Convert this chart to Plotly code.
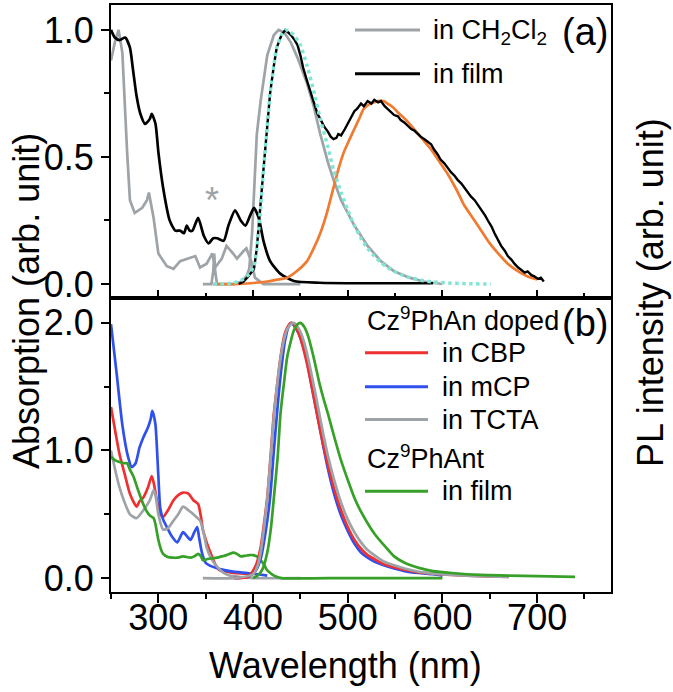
import plotly.graph_objects as go

# ---------------- Panel (a) data ----------------
abs_dcm_wl = [250, 254, 258, 262, 267, 270, 275, 283, 288, 290, 295, 300, 309, 316, 323, 332, 339, 344, 351, 357,
              360, 367, 372, 379, 383, 390, 393, 398, 402, 411, 420, 450]
abs_dcm = [0.88, 0.95, 1.0, 0.91, 0.52, 0.33, 0.28, 0.30, 0.33, 0.36, 0.26, 0.12, 0.07, 0.06, 0.09, 0.10, 0.11, 0.065,
           0.08, 0.12, 0.065, 0.10, 0.15, 0.12, 0.10, 0.13, 0.14, 0.09, 0.025, 0.0, 0.0, 0.0]

abs_film_wl = [250, 254, 259, 265, 270, 273, 277, 281, 286, 291, 293, 297, 300, 305, 312, 318, 323, 327, 330, 333, 336,
               342, 348, 353, 358, 362, 369, 374, 381, 387, 392, 397, 401, 406, 411, 418, 429, 443, 470, 520, 590]
abs_film = [1.0, 0.97, 0.96, 0.97, 0.93, 0.85, 0.74, 0.67, 0.63, 0.65, 0.67, 0.63, 0.52, 0.38, 0.25, 0.21, 0.21, 0.20,
            0.23, 0.21, 0.21, 0.26, 0.19, 0.16, 0.18, 0.18, 0.17, 0.23, 0.29, 0.25, 0.23, 0.27, 0.30, 0.26, 0.17, 0.09,
            0.04, 0.012, 0.005, 0.003, 0.003]

pl_dcm_wl = [347, 352, 356, 358, 359, 360, 362, 370, 380, 388, 393, 396, 399, 404, 408, 415, 422, 427, 433, 440, 447,
             457, 464, 471, 479, 485, 493, 507, 521, 535, 549, 565, 580, 600]
pl_dcm = [0.0, 0.0, 0.0, 0.05, 0.12, 0.05, 0.0, 0.0, 0.0, 0.01, 0.03, 0.06, 0.2, 0.59, 0.72, 0.9, 0.98, 1.0, 0.99, 0.95,
          0.89, 0.79, 0.7, 0.59, 0.48, 0.41, 0.33, 0.23, 0.15, 0.09, 0.05, 0.025, 0.01, 0.0]

pl_film_wl = [385, 390, 395, 401, 404, 408, 411, 415, 418, 422, 425, 430, 434, 437, 440, 444, 447, 450, 453,
              457, 461, 464, 468, 471, 475, 479, 482, 485, 488, 490, 493, 497, 500, 503, 507, 510, 514, 517, 521, 525,
              528, 532, 535, 539, 542, 546, 549, 553, 556, 560, 563, 567, 570, 574, 577, 581, 584, 588, 591, 595, 598,
              602, 606, 609, 613, 616, 620, 623, 627, 630, 634, 638, 641, 645, 648, 652, 655, 659, 662, 666, 669, 673,
              676, 680, 683, 687, 690, 694, 697, 701, 704, 707]
pl_film = [0.0, 0.01, 0.03, 0.06, 0.14, 0.3, 0.45, 0.62, 0.75, 0.86, 0.93, 0.98, 1.0, 0.99, 0.98, 0.96,
           0.94, 0.90, 0.85, 0.80, 0.75, 0.71, 0.67, 0.65, 0.62, 0.60, 0.58, 0.57, 0.575, 0.59, 0.585, 0.61, 0.63,
           0.65, 0.68, 0.69, 0.71, 0.70, 0.72, 0.71, 0.725, 0.715, 0.72, 0.70, 0.69, 0.675, 0.665, 0.66, 0.645, 0.635,
           0.625, 0.61, 0.605, 0.59, 0.58, 0.57, 0.56, 0.55, 0.53, 0.51, 0.49, 0.475, 0.455, 0.44, 0.425, 0.41, 0.395,
           0.38, 0.36, 0.345, 0.33, 0.31, 0.29, 0.27, 0.25, 0.225, 0.2, 0.17, 0.15, 0.13, 0.11, 0.095, 0.08, 0.065,
           0.055, 0.045, 0.05, 0.035, 0.03, 0.02, 0.025, 0.01]

fit1_wl = [358, 370, 380, 390, 396, 401, 404, 408, 411, 415, 418, 422, 425, 430, 434, 438, 443, 450, 457, 464, 471, 479,
           485, 493, 500, 507, 514, 521, 528, 535, 542, 549, 556, 566, 577, 590, 606, 630, 651]
fit1 = [0.0, 0.0, 0.005, 0.02, 0.04, 0.07, 0.14, 0.3, 0.45, 0.62, 0.75, 0.86, 0.93, 0.98, 1.0, 0.995, 0.98, 0.94, 0.86,
        0.76, 0.65, 0.54, 0.45, 0.36, 0.29, 0.23, 0.18, 0.14, 0.11, 0.085, 0.065, 0.05, 0.038, 0.025, 0.015, 0.008,
        0.004, 0.001, 0.0]

fit2_wl = [358, 380, 400, 415, 425, 436, 446, 457, 464, 471, 478, 485, 490, 496, 502, 507, 512, 517, 524, 532, 538, 542,
           548, 553, 556, 563, 570, 579, 588, 597, 606, 615, 623, 632, 641, 650, 659, 669, 680, 690, 700]
fit2 = [0.0, 0.0, 0.004, 0.01, 0.017, 0.025, 0.05, 0.09, 0.14, 0.2, 0.28, 0.38, 0.45, 0.52, 0.57, 0.61, 0.65, 0.69,
        0.71, 0.72, 0.72, 0.71, 0.695, 0.675, 0.665, 0.64, 0.61, 0.57, 0.53, 0.48, 0.43, 0.37, 0.31, 0.26, 0.21, 0.16,
        0.12, 0.08, 0.05, 0.03, 0.018]

# ---------------- Panel (b) data ----------------
abs_cbp_wl = [250, 255, 259, 265, 270, 277, 280, 284, 289, 293, 295, 298, 302, 305, 310, 316, 321, 326, 332, 337, 342,
              345, 347, 351, 355, 360, 365, 372, 379, 390, 400]
abs_cbp = [1.34, 1.13, 0.97, 0.8, 0.66, 0.56, 0.6, 0.63, 0.71, 0.8, 0.75, 0.63, 0.5, 0.48, 0.53, 0.61, 0.65, 0.67, 0.66,
           0.61, 0.58, 0.48, 0.38, 0.28, 0.2, 0.11, 0.06, 0.05, 0.04, 0.035, 0.03]

abs_mcp_wl = [250, 256, 262, 268, 272, 276, 280, 284, 289, 292, 293.5, 295, 297, 300, 302, 305, 309, 314, 320, 326, 330,
              334, 338, 341, 343, 346, 350, 357, 365, 379, 394, 405, 415]
abs_mcp = [1.99, 1.6, 1.2, 0.95, 0.87, 0.9, 1.02, 1.1, 1.18, 1.25, 1.31, 1.28, 1.2, 0.8, 0.55, 0.46, 0.4, 0.33, 0.28,
           0.36, 0.33, 0.30, 0.36, 0.40, 0.32, 0.2, 0.12, 0.09, 0.07, 0.05, 0.04, 0.03, 0.02]

abs_tcta_wl = [250, 255, 259, 264, 270, 277, 284, 291, 295, 297, 300, 305, 310, 316, 321, 326, 332, 337, 344, 348, 351,
               356, 362, 369, 375, 385, 400, 450]
abs_tcta = [1.0, 0.83, 0.71, 0.6, 0.5, 0.47, 0.53, 0.61, 0.69, 0.65, 0.5, 0.38, 0.39, 0.45, 0.5, 0.56, 0.53, 0.5, 0.45,
            0.35, 0.24, 0.15, 0.09, 0.04, 0.02, 0.01, 0.0, 0.0]

abs_ant_wl = [250, 255, 259, 264, 267, 270, 274, 279, 284, 288, 291, 295, 297, 300, 303, 305, 310, 315, 320, 326, 330,
              334, 338, 342, 345, 347, 352, 357, 362, 367, 372, 379, 383, 387, 392, 396, 400, 404, 408, 412, 415, 420,
              425, 430, 500, 600]
abs_ant = [0.95, 0.92, 0.91, 0.9, 0.9, 0.85, 0.79, 0.68, 0.58, 0.52, 0.49, 0.47, 0.42, 0.3, 0.22, 0.19, 0.165, 0.16,
           0.16, 0.17, 0.165, 0.16, 0.17, 0.19, 0.17, 0.14, 0.15, 0.155, 0.16, 0.17, 0.18, 0.2, 0.19, 0.17, 0.175, 0.18,
           0.18, 0.17, 0.14, 0.1, 0.06, 0.03, 0.01, 0.0, 0.0, 0.0]

pl_cbp_wl = [380, 395, 403, 408, 412, 415, 419, 422, 426, 429, 433, 436, 440, 444, 448, 452, 457, 462, 468, 474, 479,
             486, 493, 500, 507, 514, 521, 528, 538, 549, 560, 575, 590, 610, 640, 670]
pl_cbp = [0.0, 0.01, 0.1, 0.24, 0.45, 0.63, 1.0, 1.29, 1.55, 1.73, 1.9, 1.96, 2.0, 1.98, 1.92, 1.83, 1.68, 1.5, 1.27,
          1.05, 0.89, 0.69, 0.53, 0.4, 0.3, 0.23, 0.18, 0.15, 0.11, 0.085, 0.065, 0.045, 0.035, 0.025, 0.015, 0.01]

pl_mcp_wl = [380, 395, 403, 408, 413, 418, 422, 426, 430, 434, 438, 441, 444, 448, 452, 457, 462, 468, 474, 479, 486,
             493, 500, 507, 514, 521, 528, 538, 549, 560, 575, 590, 600]
pl_mcp = [0.0, 0.01, 0.06, 0.15, 0.35, 0.63, 1.0, 1.35, 1.65, 1.87, 1.98, 2.0, 1.97, 1.92, 1.84, 1.7, 1.5, 1.27, 1.04,
          0.86, 0.65, 0.49, 0.37, 0.27, 0.2, 0.16, 0.13, 0.1, 0.075, 0.055, 0.04, 0.03, 0.02]

pl_tcta_wl = [347, 380, 400, 405, 408, 412, 415, 419, 422, 426, 429, 433, 436, 440, 443, 446, 450, 455, 460, 466, 472,
              479, 486, 493, 500, 507, 514, 521, 528, 538, 549, 560, 575, 590, 610, 640, 670]
pl_tcta = [0.0, 0.0, 0.03, 0.1, 0.2, 0.42, 0.62, 0.98, 1.27, 1.55, 1.72, 1.88, 1.95, 1.99, 2.0, 1.98, 1.93, 1.82, 1.66,
           1.44, 1.21, 0.96, 0.76, 0.59, 0.46, 0.36, 0.28, 0.22, 0.18, 0.13, 0.1, 0.075, 0.05, 0.035, 0.025, 0.015,
           0.01]

pl_ant_wl = [400, 405, 410, 415, 419, 422, 426, 429, 433, 436, 440, 443, 447, 450, 454, 458, 464, 470, 475, 479, 486,
             493, 500, 507, 514, 521, 528, 538, 549, 560, 575, 590, 610, 640, 670, 700, 740]
pl_ant = [0.0, 0.02, 0.07, 0.2, 0.4, 0.63, 0.95, 1.29, 1.55, 1.73, 1.86, 1.94, 1.99, 2.0, 1.97, 1.9, 1.73, 1.53, 1.39,
          1.29, 1.1, 0.92, 0.77, 0.63, 0.52, 0.43, 0.35, 0.26, 0.17, 0.12, 0.08, 0.055, 0.04, 0.025, 0.02, 0.015, 0.01]

# tick labels
x_ticks = [300, 400, 500, 600, 700]
x_minor = [250, 350, 450, 550, 650, 750]
ya_ticks = [0.0, 0.5, 1.0]
ya_text = ["0.0", "0.5", "1.0"]
yb_ticks = [0.0, 1.0, 2.0]
yb_text = ["0.0", "1.0", "2.0"]

# colours
GRAY = "#9ea3a7"
BLACK = "#000000"
CYAN = "#7fe6d6"
ORANGE = "#f07a30"
RED = "#ee3030"
BLUE = "#3050ee"
GREEN = "#36a028"

FONT = "Liberation Sans, Arial, sans-serif"

fig = go.Figure()


def add(x, y, color, xa, ya, width=2.7, shape="spline", dash="solid"):
    fig.add_trace(go.Scatter(x=x, y=y, mode="lines", xaxis=xa, yaxis=ya,
                             line=dict(color=color, width=width, shape=shape, dash=dash,
                                       smoothing=0.6 if shape == "spline" else None),
                             showlegend=False, hoverinfo="skip"))


# panel (a)
add(abs_dcm_wl, abs_dcm, GRAY, "x2", "y", shape="linear")
add(pl_dcm_wl, pl_dcm, GRAY, "x2", "y", shape="linear")
add(abs_film_wl, abs_film, BLACK, "x2", "y")
add(fit2_wl, fit2, ORANGE, "x2", "y")
add(pl_film_wl, pl_film, BLACK, "x2", "y", width=2.4, shape="linear")
add(fit1_wl, fit1, CYAN, "x2", "y", width=3.5, dash="dot")

# panel (b)
add(abs_cbp_wl, abs_cbp, RED, "x", "y2")
add(abs_mcp_wl, abs_mcp, BLUE, "x", "y2")
add(abs_tcta_wl, abs_tcta, GRAY, "x", "y2")
add(abs_ant_wl, abs_ant, GREEN, "x", "y2")
add(pl_mcp_wl, pl_mcp, BLUE, "x", "y2")
add(pl_cbp_wl, pl_cbp, RED, "x", "y2")
add(pl_tcta_wl, pl_tcta, GRAY, "x", "y2")
add(pl_ant_wl, pl_ant, GREEN, "x", "y2")

axis_common = dict(showline=True, linewidth=2, linecolor="black", mirror=True, showgrid=False, zeroline=False,
                   tickcolor="black", tickwidth=2)

split = (592 - 297) / 589

fig.update_layout(
    width=673, height=692,
    margin=dict(l=111, r=62, t=3, b=100),
    paper_bgcolor="white", plot_bgcolor="white",
    font=dict(family=FONT, color="black", size=36),
    xaxis=dict(domain=[0, 1], anchor="y2", range=[250, 778], tickvals=x_ticks, ticks="outside", ticklen=9,
               tickfont=dict(size=36, family=FONT), ticklabelstandoff=-16,
               minor=dict(tickvals=x_minor, ticks="outside", ticklen=5, tickwidth=2, tickcolor="black"),
               **axis_common),
    xaxis2=dict(domain=[0, 1], anchor="y", range=[250, 778], tickvals=x_ticks, ticks="inside", ticklen=8,
                showticklabels=False,
                minor=dict(tickvals=x_minor, ticks="inside", ticklen=5, tickwidth=2, tickcolor="black"),
                **axis_common),
    yaxis=dict(domain=[split, 1], anchor="x2", range=[-0.055, 1.098], tickvals=ya_ticks, ticktext=ya_text,
               ticks="outside", ticklen=8, tickfont=dict(size=36, family=FONT),
               minor=dict(tickvals=[0.25, 0.75], ticks="outside", ticklen=5, tickwidth=2, tickcolor="black"),
               **axis_common),
    yaxis2=dict(domain=[0, split], anchor="x", range=[-0.109, 2.195], tickvals=yb_ticks, ticktext=yb_text,
                ticks="outside", ticklen=8, tickfont=dict(size=36, family=FONT),
                minor=dict(tickvals=[0.5, 1.5], ticks="outside", ticklen=5, tickwidth=2, tickcolor="black"),
                **axis_common),
)


def px_x(px):
    return (px - 111) / 500


def px_y(py):
    return (592 - py) / 589


shapes = []
annotations = []


def leg_line(x0, x1, y, color):
    shapes.append(dict(type="line", xref="paper", yref="paper", x0=px_x(x0), x1=px_x(x1), y0=px_y(y), y1=px_y(y),
                       line=dict(color=color, width=3)))


def text(x, y, s, size=27, xanchor="left", angle=0):
    annotations.append(dict(xref="paper", yref="paper", x=px_x(x), y=px_y(y), text=s, showarrow=False,
                            xanchor=xanchor, yanchor="middle", textangle=angle,
                            font=dict(size=size, family=FONT, color="black")))


# legend (a)
leg_line(355, 420, 28, GRAY)
leg_line(355, 420, 72, BLACK)
text(431, 30, "in CH<sub>2</sub>Cl<sub>2</sub>")
text(431, 72, "in film")
text(560, 30, "(a)", size=38)
# asterisk marking the solvent Raman line
annotations.append(dict(xref="x2", yref="y", x=357, y=0.33, text="*", showarrow=False,
                        font=dict(size=36, family=FONT, color=GRAY)))

# legend (b)
text(365, 318, "Cz<sup>9</sup>PhAn doped")
text(560, 322, "(b)", size=38)
leg_line(365, 428, 352, RED)
text(440, 352, "in CBP")
leg_line(365, 428, 386, BLUE)
text(440, 386, "in mCP")
leg_line(365, 428, 419, GRAY)
text(440, 419, "in TCTA")
text(365, 457, "Cz<sup>9</sup>PhAnt")
leg_line(365, 428, 491, GREEN)
text(440, 491, "in film")

# axis titles
text(345, 666, "Wavelength (nm)", size=36, xanchor="center")
text(27, 300, "Absorption (arb. unit)", size=36, xanchor="center", angle=-90)
text(650, 292, "PL intensity (arb. unit)", size=36, xanchor="center", angle=-90)

fig.update_layout(shapes=shapes, annotations=annotations)

fig.write_html("out.html", config={"displayModeBar": False},
               post_script="document.body.style.margin='0px';document.body.style.overflow='hidden';")
